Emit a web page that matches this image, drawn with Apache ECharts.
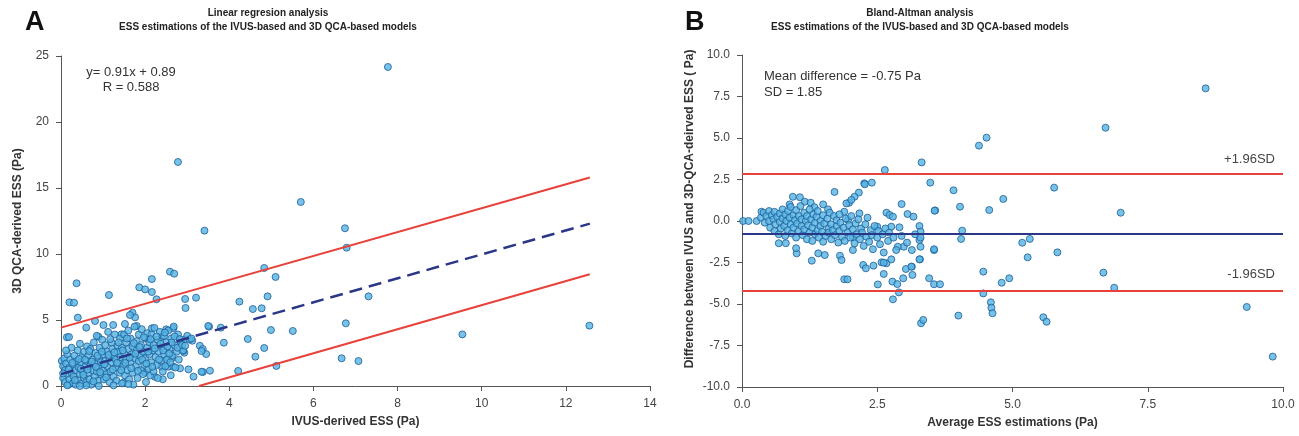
<!DOCTYPE html>
<html>
<head>
<meta charset="utf-8">
<script src="https://cdn.jsdelivr.net/npm/echarts@6/dist/echarts.min.js"></script>
<style>
html,body{margin:0;padding:0;background:#fff;}
#chart{width:1299px;height:436px;}
</style>
</head>
<body>
<div id="chart"></div>
<script>
// ---------- Panel A: linear regression ----------
const titleA = ['Linear regresion analysis', 'ESS estimations of the IVUS-based and 3D QCA-based models'];
const titleB = ['Bland-Altman analysis', 'ESS estimations of the IVUS-based and 3D QCA-based models'];
const xTicksA = [0, 2, 4, 6, 8, 10, 12, 14];
const yTicksA = [0, 5, 10, 15, 20, 25];
// [IVUS-derived ESS, 3D QCA-derived ESS]
const regPoints = [
[7.77,24.17],[2.78,16.97],[5.70,13.94],[3.41,11.77],[6.75,11.95],[6.79,10.48],[7.31,6.79],[6.77,4.75],[9.54,3.91],[12.56,4.57],[6.67,2.1],[7.07,1.89],
[0.37,7.78],[0.2,6.34],[0.31,6.31],[0.40,5.18],[0.14,3.69],[0.19,3.71],[0.60,4.42],[1.14,6.89],[2.16,8.1],[1.86,7.47],[2.0,7.32],[2.16,7.12],[2.27,6.57],[2.59,8.66],[2.69,8.51],[2.95,6.59],[3.21,6.69],[2.96,5.91],[3.52,4.49],[3.80,4.42],[3.87,3.28],[4.24,6.39],[4.56,5.83],[4.77,5.89],[4.83,8.94],[5.10,8.26],[4.91,6.79],[4.44,3.56],[4.99,4.24],[5.51,4.17],[4.83,2.88],[4.62,2.22],[5.12,1.52],[4.21,1.14],[3.30,3.05],[3.37,2.8],[3.45,2.42],[3.37,1.06],[3.54,1.16],[3.15,0.71],[3.03,1.26],[2.61,0.81],[2.42,0.51],[2.93,2.52],[3.12,3.43],
[1.70,5.55],[1.76,5.2],[1.64,5.38],[0.81,4.92],[1.01,4.62],[1.24,4.62],[1.52,4.7],[1.80,4.55],[2.16,4.37],[2.50,4.29],[2.67,4.37],[1.44,3.92],[0.89,3.73],[2.08,3.54],[2.39,3.73],[2.95,3.54],[3.05,3.54],[3.34,2.65],[2.91,2.67],[2.63,2.1],[2.54,2.1],[2.39,1.46],[2.55,1.46],[2.67,1.46],[2.83,1.34],[3.34,1.08],[2.23,0.71],[2.0,1.01],[1.48,0.25],[3.50,4.55],
[0.02,1.9],[0.05,1.5],[0.05,0.6],[0.08,2.1],[0.1,1.2],[0.1,0.3],[0.12,1.7],[0.15,0.9],[0.15,2.4],[0.18,0.1],[0.2,1.4],[0.2,0.5],[0.22,2.0],[0.25,1.0],[0.25,2.9],[0.28,0.2],[0.3,1.6],[0.3,0.7],[0.32,2.3],[0.35,1.2],[0.35,0.1],[0.38,1.9],[0.4,0.5],[0.4,2.7],[0.42,1.4],[0.45,0.9],[0.45,3.2],[0.48,1.8],[0.5,0.2],[0.5,2.2],[0.52,1.1],[0.55,0.6],[0.55,2.6],[0.58,1.5],[0.6,0.3],[0.6,1.9],[0.62,3.0],[0.65,1.0],[0.65,2.3],[0.68,0.5],[0.7,1.6],[0.7,2.8],[0.72,0.1],[0.75,1.2],[0.75,2.0],[0.78,3.3],[0.8,0.7],[0.8,1.7],[0.82,2.5],[0.85,1.1],[0.85,3.8],[0.88,0.4],[0.9,2.1],[0.9,1.4],[0.92,2.9],[0.95,0.9],[0.95,1.8],[0.98,3.5],[1.0,1.2],[1.0,2.4],[1.02,0.5],[1.05,1.9],[1.05,3.1],[1.08,0.9],[1.1,2.6],[1.1,1.5],[1.12,4.1],[1.15,0.3],[1.15,2.1],[1.18,1.1],[1.2,3.3],[1.2,1.8],[1.22,2.8],[1.25,0.7],[1.25,2.3],[1.28,3.9],[1.3,1.4],[1.3,2.0],[1.32,0.4],[1.35,3.0],[1.35,2.6],[1.38,1.7],[1.4,1.0],[1.4,3.6],[1.42,2.2],[1.45,0.2],[1.45,2.9],[1.48,1.5],[1.5,3.9],[1.5,2.5],[1.52,0.8],[1.55,2.0],[1.55,3.3],[1.58,1.2],[1.6,4.2],[1.6,2.8],[1.62,0.5],[1.65,1.8],[1.65,3.6],[1.68,2.4],[1.7,1.0],[1.7,3.0],[1.72,0.1],[1.75,2.1],[1.75,4.5],[1.78,1.5],[1.8,3.4],[1.8,2.7],[1.82,0.6],[1.85,1.9],[1.85,3.9],[1.88,2.3],[1.9,1.2],[1.9,3.1],[1.92,4.3],[1.95,0.9],[1.95,2.6],[1.98,1.6],[2.0,3.6],[2.0,2.1],[2.02,0.3],[2.05,2.9],[2.05,4.0],[2.08,1.3],[2.1,2.4],[2.1,3.3],[2.12,0.8],[2.15,1.8],[2.15,3.9],[2.18,2.7],[2.2,1.1],[2.2,3.1],[2.22,4.4],[2.25,2.2],[2.28,1.6],[2.3,3.5],[2.3,0.6],[2.32,2.6],[2.35,4.1],[2.38,1.9],[2.4,3.0],[2.42,1.1],[2.45,2.4],[2.45,3.8],[2.48,1.5],[2.5,3.3],[2.52,2.0],[2.55,4.2],[2.58,2.8],[2.6,1.8],[2.62,3.6],[2.65,2.3],[2.68,4.5],[2.7,3.1],[2.72,1.4],[2.75,2.6],[2.78,3.9],[2.8,2.0],[2.85,3.3],[2.9,2.7],[3.0,3.8],[3.1,3.6],
[0.6,0.05],[0.9,0.0],[1.25,0.05],[1.6,0.15],[0.15,0.05],[0.45,0.0],
[0.05,0.95],[0.12,2.7],[0.18,1.25],[0.27,1.75],[0.33,0.45],[0.43,2.05],[0.47,1.3],[0.53,0.85],[0.57,2.0],[0.63,1.25],[0.67,2.65],[0.73,1.85],[0.77,0.35],[0.83,1.45],[0.87,2.3],[0.93,1.05],[0.97,2.6],[1.03,1.65],[1.07,0.65],[1.13,2.35],[1.17,3.55],[1.23,1.25],[1.27,2.55],[1.33,1.75],[1.37,3.3],[1.43,1.2],[1.47,2.7],[1.53,1.75],[1.57,3.6],[1.63,2.15],[1.67,1.35],[1.73,3.25],[1.77,2.45],[1.83,1.15],[1.87,2.95],[1.93,2.0],[1.97,3.7],[2.03,1.7],[2.07,2.6],[2.13,3.55],[2.17,1.45],[2.23,2.85],[2.27,3.75],[2.33,2.0],[2.37,3.2],[2.43,2.7],[2.47,4.05],[2.53,3.0],[2.57,2.45],[2.63,3.3],[2.7,3.75],[2.77,2.9],[2.82,3.55],[2.88,3.1],[2.95,3.05]
];
// regression line and prediction band endpoints [x, y]
const regLine = [[0, 0.9], [12.57, 12.3]];
const upperBand = [[0, 4.42], [12.57, 15.8]];
const lowerBand = [[3.28, 0], [12.57, 8.46]];
const regText = ['y= 0.91x + 0.89', 'R = 0.588'];

// ---------- Panel B: Bland-Altman ----------
const xTicksB = [0, 2.5, 5, 7.5, 10];
const yTicksB = [-10, -7.5, -5, -2.5, 0, 2.5, 5, 7.5, 10];
// [average ESS, difference]
const baPoints = [
[2.64,3.07],[3.32,3.53],[4.38,4.54],[4.52,5.02],[3.48,2.31],[3.91,1.85],[4.03,0.86],[3.57,0.64],[2.95,1.02],[3.06,0.42],[3.17,0.26],[2.26,2.27],[2.40,2.31],[2.16,1.71],[2.08,1.46],[1.98,1.10],[1.71,1.75],[0.02,0.0],[0.12,0.0],[0.27,0.0],[0.94,1.46],[1.07,1.43],[4.57,0.66],[4.07,-0.58],
[8.57,7.99],[6.72,5.62],[5.77,2.01],[4.83,1.33],[7.0,0.5],[5.32,-1.08],
[5.18,-1.31],[5.28,-2.19],[5.83,-1.89],[4.46,-3.05],[4.80,-3.72],[4.94,-3.45],[4.46,-4.36],[4.6,-4.9],[4.61,-5.22],[4.63,-5.56],[5.57,-5.8],[5.63,-6.07],[6.68,-3.11],[6.88,-4.02],[9.33,-5.18],[9.81,-8.17],
[3.31,-6.16],[3.35,-5.96],[4.0,-5.7],[2.79,-4.72],[2.90,-4.3],[2.78,-3.65],[2.87,-3.8],[2.51,-3.82],[1.89,-3.51],[1.95,-3.51],[2.98,-3.45],[3.15,-3.25],[3.46,-3.45],[3.55,-3.81],[3.66,-3.81],[4.05,-1.08],[3.55,-1.75],[3.29,-2.31],[3.14,-2.75],[3.03,-2.89],[1.29,-2.39],[1.41,-1.95],[1.53,-2.05],[1.81,-2.09],[1.84,-2.35],[2.24,-2.65],[2.29,-2.85],[2.43,-2.69],[2.58,-2.49],[2.67,-2.55],[2.62,-3.19],[0.68,-1.34],[0.81,-1.34],[1.01,-1.95],[1.0,-1.64],
[1.16,1.16],[1.27,1.1],[1.34,0.83],[1.50,1.0],[1.59,0.7],[0.88,1.0],[0.36,0.56],[1.93,1.06],[2.02,1.27],[2.27,2.21],[3.56,0.62],[2.67,0.5],[2.73,0.36],[2.79,0.26],[2.17,0.46],[1.89,0.56],[1.96,0.06],[2.50,-0.34],[2.76,-0.34],[2.91,-0.38],[3.28,-0.3],[3.30,-0.64],[3.28,-1.14],[3.30,-1.55],[3.55,-1.7],[3.28,-2.31],[3.14,-1.75],[2.99,-1.55],[2.88,-1.55],[2.76,-2.31],[2.62,-2.51],[3.13,-2.75],[2.05,-1.75],[2.05,-0.98],
[0.35,0.2],[0.4,0.5],[0.42,-0.1],[0.45,0.3],[0.5,0.6],[0.5,0.0],[0.52,-0.4],[0.55,0.35],[0.58,0.1],[0.6,-0.6],[0.6,0.55],[0.62,-0.2],[0.65,0.25],[0.68,-0.8],[0.7,0.45],[0.7,-0.05],[0.72,-0.45],[0.75,0.15],[0.75,0.7],[0.78,-0.3],[0.8,0.4],[0.8,-0.9],[0.82,0.0],[0.85,-0.55],[0.85,0.6],[0.88,0.2],[0.9,-0.2],[0.9,0.85],[0.92,-0.75],[0.95,0.35],[0.95,-0.4],[0.98,0.05],[1.0,0.65],[1.0,-1.0],[1.02,-0.15],[1.05,0.3],[1.05,-0.6],[1.08,0.9],[1.1,-0.3],[1.1,0.1],[1.12,-0.85],[1.15,0.5],[1.15,-0.5],[1.18,0.0],[1.2,-1.1],[1.2,0.3],[1.22,-0.25],[1.25,0.7],[1.25,-0.7],[1.28,0.1],[1.3,-0.4],[1.3,-1.2],[1.32,0.4],[1.35,-0.1],[1.35,-0.8],[1.38,0.25],[1.4,-0.55],[1.4,0.6],[1.42,-1.0],[1.45,0.0],[1.45,-0.3],[1.48,-0.65],[1.5,0.35],[1.5,-1.25],[1.52,-0.15],[1.55,-0.9],[1.58,0.15],[1.6,-0.45],[1.6,-0.7],[1.62,0.5],[1.65,-1.1],[1.65,-0.2],[1.68,-0.55],[1.7,0.3],[1.72,-0.85],[1.75,-0.3],[1.75,0.05],[1.78,-1.3],[1.8,-0.6],[1.8,0.4],[1.82,-0.1],[1.85,-0.95],[1.88,-0.4],[1.9,-1.2],[1.92,0.15],[1.95,-0.7],[1.98,-0.25],[2.0,-1.0],[2.02,0.3],[2.05,-0.5],[2.08,-1.35],[2.1,-0.15],[2.12,-0.8],[2.15,0.1],[2.18,-1.1],[2.2,-0.45],[2.22,-0.7],[2.25,-1.5],[2.28,-0.2],[2.3,-0.95],[2.32,0.2],[2.35,-1.25],[2.38,-0.55],[2.4,-0.85],[2.42,-1.7],[2.45,-0.3],[2.5,-1.0],[2.52,-0.6],[2.55,-1.4],[2.6,-0.8],[2.62,-1.9],[2.65,-0.45],[2.7,-1.2],[2.72,-0.7],[2.8,-1.0],[2.85,-1.75],[2.95,-0.9],[3.05,-1.3],[3.2,-0.8],[3.3,-1.0]
];
const meanDiff = -0.75;
const upperLoA = 2.85;
const lowerLoA = -4.2;
const baText = ['Mean difference = -0.75 Pa', 'SD = 1.85'];
const loaLabels = ['+1.96SD', '-1.96SD'];

// ---------- styles ----------
const FONT = 'Liberation Sans, Arial, sans-serif';
const axisCol = '#555';
const labelCol = '#444';
const pointStyle = {color: '#55b4e2', borderColor: '#1d5c98', borderWidth: 1};
const red = '#e8403a';
const navy = '#2a3788';

function axisCommon(min, max, interval, fmt) {
  return {
    type: 'value', min: min, max: max, interval: interval,
    axisLine: {show: true, onZero: false, lineStyle: {color: axisCol, width: 1}},
    axisTick: {show: true, length: 5, lineStyle: {color: axisCol}},
    splitLine: {show: false},
    axisLabel: {color: labelCol, fontSize: 12, fontFamily: FONT, formatter: fmt, margin: 12},
    nameTextStyle: {color: '#333', fontSize: 12, fontWeight: 'bold', fontFamily: FONT},
    nameLocation: 'middle'
  };
}

const titleStyle = {fontSize: 10, fontWeight: 'bold', fontFamily: FONT, color: '#222', lineHeight: 14};

const chart = echarts.init(document.getElementById('chart'), null, {renderer: 'canvas'});
const option = {
  animation: false,
  backgroundColor: '#fff',
  title: [
    {text: titleA.join('\n'), left: 268, top: 6, padding: 0, textAlign: 'center', textStyle: titleStyle},
    {text: titleB.join('\n'), left: 920, top: 6, padding: 0, textAlign: 'center', textStyle: titleStyle},
    {text: 'A', left: 25, top: 9, padding: 0, textStyle: {fontSize: 27, fontWeight: 'bold', fontFamily: FONT, color: '#111'}},
    {text: 'B', left: 685, top: 9, padding: 0, textStyle: {fontSize: 27, fontWeight: 'bold', fontFamily: FONT, color: '#111'}}
  ],
  grid: [
    {left: 61, right: 649, top: 56, bottom: 50},
    {left: 742, right: 16, top: 55, bottom: 49}
  ],
  xAxis: [
    Object.assign(axisCommon(xTicksA[0], xTicksA[xTicksA.length-1], 2, v => String(v)),
      {gridIndex: 0, name: 'IVUS-derived ESS (Pa)', nameGap: 30}),
    Object.assign(axisCommon(xTicksB[0], xTicksB[xTicksB.length-1], 2.5, v => v.toFixed(1)),
      {gridIndex: 1, name: 'Average ESS estimations (Pa)', nameGap: 30})
  ],
  yAxis: [
    Object.assign(axisCommon(yTicksA[0], yTicksA[yTicksA.length-1], 5, v => String(v)),
      {gridIndex: 0, name: '3D QCA-derived ESS (Pa)', nameGap: 37}),
    Object.assign(axisCommon(yTicksB[0], yTicksB[yTicksB.length-1], 2.5, v => v.toFixed(1)),
      {gridIndex: 1, name: 'Difference between IVUS and 3D-QCA-deirved ESS ( Pa)', nameGap: 46,
       nameTextStyle: {color: '#333', fontSize: 12, fontWeight: 'bold', fontFamily: FONT, padding: [0, 0, 0, 24]}})
  ],
  series: [
    {type: 'scatter', xAxisIndex: 0, yAxisIndex: 0, data: regPoints, symbol: 'circle', symbolSize: 7,
     itemStyle: pointStyle, z: 2},
    {type: 'line', xAxisIndex: 0, yAxisIndex: 0, data: upperBand, symbol: 'none',
     lineStyle: {color: red, width: 2}, z: 3},
    {type: 'line', xAxisIndex: 0, yAxisIndex: 0, data: lowerBand, symbol: 'none',
     lineStyle: {color: red, width: 2}, z: 3},
    {type: 'line', xAxisIndex: 0, yAxisIndex: 0, data: regLine, symbol: 'none',
     lineStyle: {color: navy, width: 2.5, type: [13, 7]}, z: 3},
    {type: 'scatter', xAxisIndex: 1, yAxisIndex: 1, data: baPoints, symbol: 'circle', symbolSize: 7,
     itemStyle: pointStyle, z: 2,
     markLine: {
       silent: true, symbol: 'none', animation: false, z: 3,
       data: [
         {yAxis: upperLoA, lineStyle: {color: red, width: 2, type: 'solid'},
          label: {show: true, position: 'insideEndTop', formatter: loaLabels[0], color: '#444', fontSize: 13, fontFamily: FONT, distance: [8, 8]}},
         {yAxis: meanDiff, lineStyle: {color: navy, width: 2, type: 'solid'}, label: {show: false}},
         {yAxis: lowerLoA, lineStyle: {color: red, width: 2, type: 'solid'},
          label: {show: true, position: 'insideEndTop', formatter: loaLabels[1], color: '#444', fontSize: 13, fontFamily: FONT, distance: [8, 10]}}
       ]
     }}
  ],
  graphic: [
    {type: 'text', x: 131, y: 72, style: {text: regText[0], fill: '#333', fontSize: 13, fontFamily: FONT, textAlign: 'center', textVerticalAlign: 'middle'}},
    {type: 'text', x: 131, y: 87, style: {text: regText[1], fill: '#333', fontSize: 13, fontFamily: FONT, textAlign: 'center', textVerticalAlign: 'middle'}},
    {type: 'text', x: 764, y: 76, style: {text: baText[0], fill: '#333', fontSize: 13, fontFamily: FONT, textAlign: 'left', textVerticalAlign: 'middle'}},
    {type: 'text', x: 764, y: 92, style: {text: baText[1], fill: '#333', fontSize: 13, fontFamily: FONT, textAlign: 'left', textVerticalAlign: 'middle'}}
  ]
};
chart.setOption(option);
</script>
</body>
</html>
